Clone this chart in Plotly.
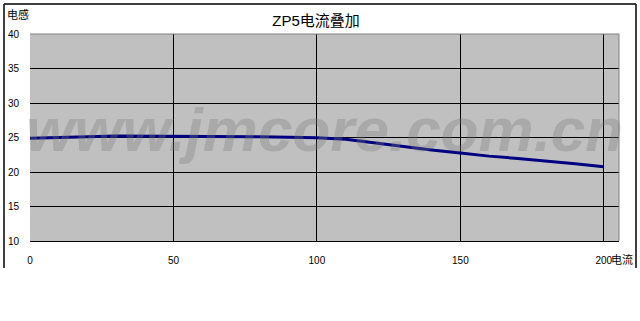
import plotly.graph_objects as go

current = [0, 10, 20, 30, 40, 50, 60, 70, 80, 90, 100, 110, 120, 130, 140, 150, 160, 170, 180, 190, 200]
inductance = [24.9, 25.05, 25.1, 25.2, 25.2, 25.2, 25.2, 25.2, 25.12, 25.02, 24.95, 24.75, 24.2, 23.72, 23.2, 22.75, 22.3, 21.97, 21.6, 21.2, 20.75]
x_ticks = [0, 50, 100, 150, 200]
y_ticks = [10, 15, 20, 25, 30, 35, 40]
title_text = "ZP5电流叠加"
x_title = "电流"
y_title = "电感"
watermark = "www.jmcore.com.cn"

FONT = "Liberation Sans, Arial, Noto Sans CJK SC, sans-serif"

fig = go.Figure()
fig.add_trace(go.Scatter(
    x=current, y=inductance, mode="lines",
    line=dict(color="#000080", width=3),
    hoverinfo="skip", showlegend=False,
))

fig.update_layout(
    width=640, height=321,
    margin=dict(l=30, r=21, t=34, b=80, autoexpand=False),
    paper_bgcolor="white",
    plot_bgcolor="#c0c0c0",
    font=dict(family=FONT, size=10, color="black"),
    showlegend=False,
    title=dict(text=title_text, x=316/640, xanchor="center", y=1-21/321, yanchor="middle",
               font=dict(family=FONT, size=15, color="black")),
    xaxis=dict(range=[0, 205.3], tickvals=x_ticks, showgrid=True, gridcolor="black", gridwidth=1,
               zeroline=False, showline=True, linecolor="black", linewidth=1, automargin=False,
               ticks="", ticklabelstandoff=10, tickfont=dict(size=10)),
    yaxis=dict(range=[10, 40], tickvals=y_ticks, showgrid=True, gridcolor="black", gridwidth=1,
               zeroline=False, showline=False, ticks="", ticklabelstandoff=10, automargin=False,
               tickfont=dict(size=10)),
)

# plot area gray frame (top/right)
fig.add_shape(type="line", xref="paper", yref="paper", x0=0, x1=1, y0=1, y1=1,
              line=dict(color="#808080", width=1), layer="above")
fig.add_shape(type="line", xref="paper", yref="paper", x0=1, x1=1, y0=0, y1=1,
              line=dict(color="#808080", width=1), layer="above")

# outer chart border (left, top, right)
pl, pr, pt, pb = 30, 619, 34, 241
def px(x):
    return (x - pl) / (pr - pl)
def py(y):
    return (pb - y) / (pb - pt)
for (x0, y0, x1, y1) in [(4, 4, 4, 268), (4, 4, 636, 4), (636, 4, 636, 268)]:
    fig.add_shape(type="line", xref="paper", yref="paper",
                  x0=px(x0), y0=py(y0), x1=px(x1), y1=py(y1),
                  line=dict(color="black", width=1.5))

fig.add_annotation(text=watermark, xref="paper", yref="paper", x=px(324), y=py(129),
                   xanchor="center", yanchor="middle", showarrow=False,
                   font=dict(family="Liberation Sans, Arial", size=62, weight="bold", style="italic",
                             color="rgba(120,120,120,0.33)"))
fig.add_annotation(text=y_title, xref="paper", yref="paper", x=px(5), y=py(14),
                   xanchor="left", yanchor="middle", showarrow=False,
                   font=dict(family="Noto Sans CJK SC", size=11, color="black"))
fig.add_annotation(text=x_title, xref="paper", yref="paper", x=px(609), y=py(259),
                   xanchor="left", yanchor="middle", showarrow=False,
                   font=dict(family="Noto Sans CJK SC", size=11, color="black"))

fig.write_html("out.html")
